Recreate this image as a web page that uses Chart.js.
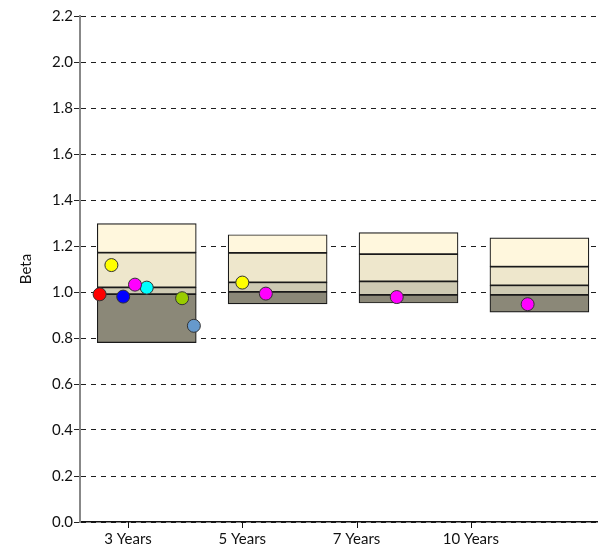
<!DOCTYPE html>
<html>
<head>
<meta charset="utf-8">
<script src="https://cdn.jsdelivr.net/npm/chart.js@4.4.1/dist/chart.umd.min.js"></script>
<style>
	html, body { margin: 0; padding: 0; background: #fff; }
	#wrap { width: 598px; height: 552px; }
</style>
</head>
<body>
<div id="wrap"><canvas id="chart" width="598" height="552"></canvas></div>
<script>
// periods along the x axis
const periods = ['3 Years', '5 Years', '7 Years', '10 Years'];

// peer group bands (bottom to top edges)
const bandP5 = [0.78, 0.948, 0.952, 0.912];
const bandP25 = [0.991, 1.001, 0.987, 0.987];
const bandP50 = [1.02, 1.042, 1.046, 1.029];
const bandP75 = [1.171, 1.17, 1.165, 1.11];
const bandP95 = [1.297, 1.249, 1.258, 1.235];

// individual funds, one value per period (null = no point)
const fundRed = [0.99, null, null, null];
const fundYellow = [1.117, 1.041, null, null];
const fundBlue = [0.98, null, null, null];
const fundMagenta = [1.032, 0.993, 0.978, 0.947];
const fundCyan = [1.019, null, null, null];
const fundGreen = [0.973, null, null, null];
const fundSteel = [0.853, null, null, null];

const yTicks = [0, 0.2, 0.4, 0.6, 0.8, 1.0, 1.2, 1.4, 1.6, 1.8, 2.0, 2.2];

// slot order inside each box (empty slots kept as null)
const funds = [
	{ values: fundRed, color: '#ff0000' },
	{ values: fundYellow, color: '#ffff00' },
	{ values: fundBlue, color: '#0000ff' },
	{ values: fundMagenta, color: '#ff00ff' },
	{ values: fundCyan, color: '#00ffff' },
	null,
	null,
	{ values: fundGreen, color: '#99cc00' },
	{ values: fundSteel, color: '#6699cc' }
];

const FONT = 'Lato, "Open Sans", sans-serif';
const FSIZE = 15;
const tickPos = [0.357, 1.23, 2.103, 2.976];
const slotStep = 0.09;

const bands = [
	{ lo: bandP75, hi: bandP95, color: '#fff7dd' },
	{ lo: bandP50, hi: bandP75, color: '#eee7cc' },
	{ lo: bandP25, hi: bandP50, color: '#cecab3' },
	{ lo: bandP5, hi: bandP25, color: '#8b8878' }
];

const datasets = [];

bands.forEach((b) => {
	datasets.push({
		type: 'bar',
		data: periods.map((p, i) => ({ x: i + 0.5, y: [b.lo[i], b.hi[i]] })),
		backgroundColor: b.color,
		borderColor: '#1a1a1a',
		borderWidth: 1.2,
		borderSkipped: false,
		grouped: false,
		barThickness: 99,
		order: 10
	});
});

funds.forEach((f, slot) => {
	if (!f) return;
	const data = [];
	f.values.forEach((v, i) => {
		if (v == null) return;
		data.push({ x: i + 0.5 + (slot - 4) * slotStep, y: v });
	});
	datasets.push({
		type: 'scatter',
		data,
		backgroundColor: f.color,
		borderColor: '#333',
		borderWidth: 1,
		pointRadius: 6.5,
		pointHoverRadius: 6.5,
		order: 0
	});
});

Chart.defaults.font.family = FONT;
Chart.defaults.color = '#111';

// small tick marks under the x axis
const xTickMarks = {
	id: 'xTickMarks',
	afterDraw(chart) {
		const { ctx, scales: { x }, chartArea } = chart;
		ctx.save();
		ctx.strokeStyle = '#111';
		ctx.lineWidth = 1;
		x.ticks.forEach((t) => {
			const px = Math.round(x.getPixelForValue(t.value)) + 0.5;
			ctx.beginPath();
			ctx.moveTo(px, chartArea.bottom);
			ctx.lineTo(px, chartArea.bottom + 6);
			ctx.stroke();
		});
		ctx.restore();
	}
};

new Chart(document.getElementById('chart'), {
	type: 'scatter',
	data: { datasets },
	plugins: [xTickMarks],
	options: {
		responsive: false,
		animation: false,
		events: [],
		layout: {
			autoPadding: false,
			padding: { top: 16, right: 1, bottom: 0, left: 0 }
		},
		plugins: {
			legend: { display: false },
			tooltip: { enabled: false }
		},
		scales: {
			x: {
				type: 'linear',
				offset: false,
				min: -0.01,
				max: 3.94,
				afterBuildTicks: (scale) => {
					scale.ticks = tickPos.map((v) => ({ value: v }));
				},
				afterFit: (scale) => { scale.height = 30; },
				ticks: {
					autoSkip: false,
					maxRotation: 0,
					padding: 2,
					font: { size: FSIZE },
					color: '#111',
					callback: (v, i) => periods[i]
				},
				grid: {
					display: false,
					tickLength: 6
				},
				border: { color: '#111', width: 1.5 }
			},
			y: {
				min: 0,
				max: 2.2,
				afterBuildTicks: (scale) => {
					scale.ticks = yTicks.map((v) => ({ value: v }));
				},
				afterFit: (scale) => { scale.width = 80; },
				ticks: {
					padding: 1,
					font: { size: FSIZE },
					color: '#111',
					callback: (v) => Number(v).toFixed(1)
				},
				grid: {
					color: '#1e1e1e',
					lineWidth: 1,
					tickLength: 6,
					tickColor: '#222',
					tickBorderDash: [],
					tickWidth: 1
				},
				border: { color: '#888', width: 2, dash: [5, 5] },
				title: {
					display: true,
					text: 'Beta',
					font: { size: FSIZE },
					color: '#111',
					padding: { top: 17, bottom: 0 }
				}
			}
		}
	}
});
</script>
</body>
</html>
